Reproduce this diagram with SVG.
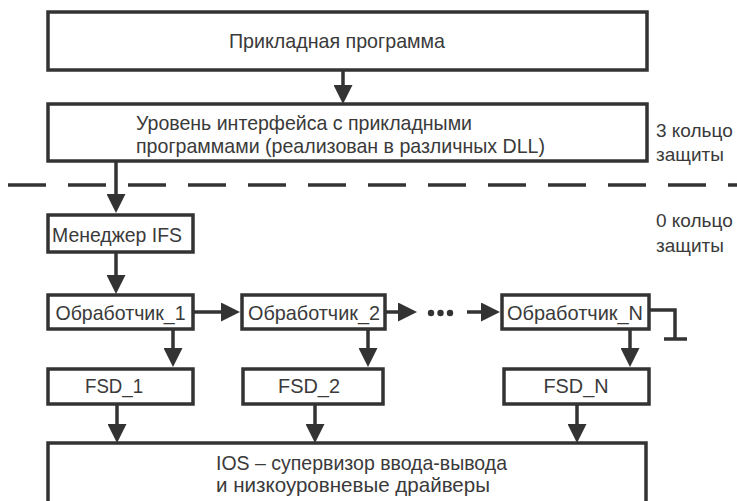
<svg xmlns="http://www.w3.org/2000/svg" width="737" height="501" viewBox="0 0 737 501">
<defs>
<style>
.box{fill:#ffffff;stroke:#333333;stroke-width:3.5}
.t{font-family:"Liberation Sans",Arial,sans-serif;font-size:21px;fill:#3a3a3a}
.side{font-family:"Liberation Sans",Arial,sans-serif;font-size:19px;fill:#3a3a3a}
.ln{fill:none;stroke:#333333;stroke-width:3.5}
.arr{fill:none;stroke:#333333;stroke-width:3.5;marker-end:url(#ah)}
.dash{fill:none;stroke:#333333;stroke-width:3.5;stroke-dasharray:38 22}
</style>
<marker id="ah" markerUnits="userSpaceOnUse" markerWidth="19" markerHeight="19" viewBox="0 0 19 19" refX="9" refY="9.5" orient="auto">
<path d="M0,0 L19,9.5 L0,19 z" fill="#333333"/>
</marker>
</defs>
<rect width="737" height="501" fill="#ffffff"/>
<line class="dash" x1="8" y1="185" x2="737" y2="185"/>
<g id="connectors">
<line class="arr" x1="343" y1="70" x2="343" y2="94"/>
<line class="arr" x1="116" y1="161" x2="116" y2="203"/>
<line class="arr" x1="116" y1="252" x2="116" y2="284"/>
<line class="arr" x1="193" y1="312" x2="230" y2="312"/>
<line class="arr" x1="385" y1="312" x2="407" y2="312"/>
<line class="arr" x1="467" y1="312" x2="490" y2="312"/>
<polyline class="ln" points="649,310 675,310 675,339"/>
<line class="ln" x1="664" y1="339" x2="687" y2="339"/>
<line class="arr" x1="173" y1="329" x2="173" y2="357"/>
<line class="arr" x1="368" y1="329" x2="368" y2="357"/>
<line class="arr" x1="630" y1="329" x2="630" y2="357"/>
<line class="arr" x1="117" y1="404" x2="117" y2="433"/>
<line class="arr" x1="315" y1="404" x2="315" y2="433"/>
<line class="arr" x1="577" y1="404" x2="577" y2="433"/>
<circle cx="431" cy="313" r="3.2" fill="#333333"/>
<circle cx="440.5" cy="313" r="3.2" fill="#333333"/>
<circle cx="450" cy="313" r="3.2" fill="#333333"/>
</g>
<g id="app">
<rect class="box" x="48" y="12" width="599" height="58"/>
<text class="t" x="337" y="48" text-anchor="middle" textLength="216" lengthAdjust="spacingAndGlyphs">Прикладная программа</text>
</g>
<g id="api">
<rect class="box" x="48" y="104" width="599" height="57"/>
<text class="t" x="136" y="130" textLength="336" lengthAdjust="spacingAndGlyphs">Уровень интерфейса с прикладными</text>
<text class="t" x="136" y="153" textLength="409" lengthAdjust="spacingAndGlyphs">программами (реализован в различных DLL)</text>
</g>
<g id="ring3">
<text class="side" x="656" y="137">3 кольцо</text>
<text class="side" x="656" y="161">защиты</text>
</g>
<g id="ring0">
<text class="side" x="656" y="227">0 кольцо</text>
<text class="side" x="656" y="252">защиты</text>
</g>
<g id="ifs">
<rect class="box" x="48" y="215" width="145" height="37"/>
<text class="t" x="52" y="242" textLength="130" lengthAdjust="spacingAndGlyphs">Менеджер IFS</text>
</g>
<g id="h1">
<rect class="box" x="48" y="295" width="145" height="34"/>
<text class="t" x="120.5" y="319.5" text-anchor="middle" textLength="130" lengthAdjust="spacingAndGlyphs">Обработчик_1</text>
</g>
<g id="h2">
<rect class="box" x="242" y="295" width="143" height="34"/>
<text class="t" x="314" y="319.5" text-anchor="middle" textLength="132" lengthAdjust="spacingAndGlyphs">Обработчик_2</text>
</g>
<g id="hN">
<rect class="box" x="502" y="295" width="147" height="34"/>
<text class="t" x="575" y="319.5" text-anchor="middle" textLength="136" lengthAdjust="spacingAndGlyphs">Обработчик_N</text>
</g>
<g id="fsd1">
<rect class="box" x="48" y="369" width="145" height="35"/>
<text class="t" x="114" y="393" text-anchor="middle" textLength="58" lengthAdjust="spacingAndGlyphs">FSD_1</text>
</g>
<g id="fsd2">
<rect class="box" x="243" y="369" width="140" height="35"/>
<text class="t" x="309" y="393" text-anchor="middle" textLength="62" lengthAdjust="spacingAndGlyphs">FSD_2</text>
</g>
<g id="fsdN">
<rect class="box" x="504" y="369" width="145" height="35"/>
<text class="t" x="576" y="393" text-anchor="middle" textLength="65" lengthAdjust="spacingAndGlyphs">FSD_N</text>
</g>
<g id="ios">
<rect class="box" x="48" y="443" width="598" height="62"/>
<text class="t" x="216" y="470" textLength="291" lengthAdjust="spacingAndGlyphs">IOS – супервизор ввода-вывода</text>
<text class="t" x="216" y="492" textLength="274" lengthAdjust="spacingAndGlyphs">и низкоуровневые драйверы</text>
</g>
</svg>
